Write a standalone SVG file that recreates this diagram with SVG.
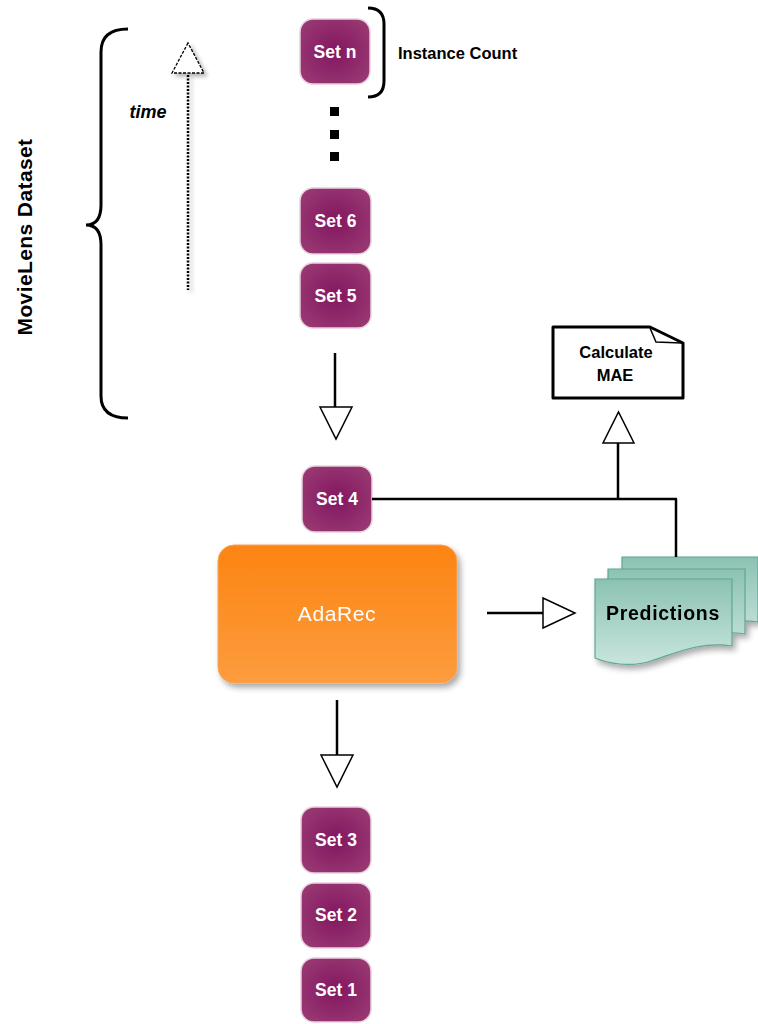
<svg xmlns="http://www.w3.org/2000/svg" width="758" height="1024" viewBox="0 0 758 1024">
<defs>
<radialGradient id="setG" cx="50%" cy="50%" r="60%">
<stop offset="0" stop-color="#831660"/>
<stop offset="1" stop-color="#983872"/>
</radialGradient>
<linearGradient id="orG" x1="0" y1="0" x2="0" y2="1">
<stop offset="0" stop-color="#FC8412"/>
<stop offset="1" stop-color="#FD9C3E"/>
</linearGradient>
<linearGradient id="tealG" x1="0" y1="0" x2="0" y2="1">
<stop offset="0" stop-color="#8CC2B3"/>
<stop offset="1" stop-color="#C8E5DD"/>
</linearGradient>
<filter id="sh" x="-20%" y="-20%" width="150%" height="150%">
<feGaussianBlur in="SourceAlpha" stdDeviation="3"/>
<feOffset dx="3" dy="4" result="b"/>
<feComponentTransfer><feFuncA type="linear" slope="0.35"/></feComponentTransfer>
<feMerge><feMergeNode/><feMergeNode in="SourceGraphic"/></feMerge>
</filter>
<filter id="sh2" x="-50%" y="-20%" width="300%" height="150%">
<feGaussianBlur in="SourceAlpha" stdDeviation="2"/>
<feOffset dx="3" dy="3"/>
<feComponentTransfer><feFuncA type="linear" slope="0.3"/></feComponentTransfer>
<feMerge><feMergeNode/><feMergeNode in="SourceGraphic"/></feMerge>
</filter>
</defs>
<style>
.set rect{fill:url(#setG);stroke:#E8D0DE;stroke-width:1.5}
.set text{fill:#fff;font-family:"Liberation Sans",Arial,sans-serif;font-weight:bold;font-size:17.5px;text-anchor:middle}
.lbl{font-family:"Liberation Sans",Arial,sans-serif;font-weight:bold;fill:#000}
.ln{stroke:#000;stroke-width:2.5;fill:none}
.tri{fill:#fff;stroke:#000;stroke-width:1.5}
.brace{fill:none;stroke:#000;stroke-width:3}
.page{fill:url(#tealG);stroke:#5FA694;stroke-width:1.2}
</style>
<rect width="758" height="1024" fill="#fff"/>

<g id="dataset-brace">
<path class="brace" d="M128,29 Q101,29 101,52 L101,205 Q101,225 86,225 Q101,225 101,245 L101,396 Q101,418 128,418"/>
<text class="lbl" font-size="21" letter-spacing="0.4" text-anchor="middle" transform="translate(32,237) rotate(-90)">MovieLens Dataset</text>
</g>

<g id="time-arrow" filter="url(#sh2)">
<line x1="188" y1="75" x2="188" y2="290" stroke="#000" stroke-width="2.5" stroke-dasharray="2,1.5"/>
<polygon points="188,43 172,73 204,73" fill="#fff" stroke="#000" stroke-width="1.3" stroke-dasharray="3,1.5"/>
</g>
<text id="time-label" class="lbl" x="148" y="118" font-size="18" font-style="italic" text-anchor="middle">time</text>

<g id="set-n" class="set"><rect x="300" y="19" width="70" height="65" rx="13"/><text x="335" y="58">Set n</text></g>
<g id="instance-count">
<path class="brace" d="M368,8 Q384,8 384,24 L384,81 Q384,97 368,97"/>
<text class="lbl" x="398" y="59" font-size="16.5">Instance Count</text>
</g>
<g id="ellipsis">
<rect x="330" y="107" width="9" height="9"/>
<rect x="330" y="130" width="9" height="9"/>
<rect x="330" y="152" width="9" height="9"/>
</g>
<g id="set-6" class="set"><rect x="300" y="188" width="71" height="66" rx="13"/><text x="335.5" y="227">Set 6</text></g>
<g id="set-5" class="set"><rect x="300" y="263" width="71" height="65" rx="13"/><text x="335.5" y="302">Set 5</text></g>
<g id="set-4" class="set"><rect x="302" y="466" width="70" height="66" rx="13"/><text x="337" y="505">Set 4</text></g>
<g id="set-3" class="set"><rect x="301" y="807" width="70" height="66" rx="13"/><text x="336" y="846">Set 3</text></g>
<g id="set-2" class="set"><rect x="301" y="883" width="70" height="65" rx="13"/><text x="336" y="921">Set 2</text></g>
<g id="set-1" class="set"><rect x="301" y="958" width="70" height="64" rx="13"/><text x="336" y="996">Set 1</text></g>

<g id="adarec" filter="url(#sh)">
<rect x="218" y="545" width="239" height="138" rx="16" fill="url(#orG)" stroke="#F3A560" stroke-width="1"/>
<text x="337" y="621" fill="#fff" font-family="'Liberation Sans',Arial,sans-serif" font-size="21" letter-spacing="0.6" text-anchor="middle">AdaRec</text>
</g>

<g id="calculate-mae">
<path d="M553,327 L650,327 L683,343 L683,398 L553,398 Z" fill="#fff" stroke="#000" stroke-width="3" stroke-linejoin="round"/>
<path d="M650,328 L656,342 L682,343" fill="none" stroke="#000" stroke-width="1.5"/>
<text class="lbl" x="616" y="358" font-size="16.5" text-anchor="middle">Calculate</text>
<text class="lbl" x="615" y="381" font-size="16.5" text-anchor="middle">MAE</text>
</g>

<g id="predictions" filter="url(#sh)">
<path class="page" d="M622,557 L758,557 L758,622 C728,617 705,628 680,637 C660,644 635,640 622,636 Z"/>
<path class="page" d="M608,569 L745,569 L745,634 C714,629 690,640 665,649 C645,656 620,652 608,648 Z"/>
<path class="page" d="M595,579 L732,579 L732,646 C700,641 676,653 651,661 C630,668 607,663 595,658 Z"/>
<text class="lbl" x="663" y="620" font-size="19.5" letter-spacing="0.7" text-anchor="middle" fill="#111">Predictions</text>
</g>

<g id="connectors">
<line class="ln" x1="335" y1="353" x2="335" y2="407"/>
<polygon class="tri" points="320,407 352,407 336,439"/>
<line class="ln" x1="372" y1="499" x2="677" y2="499"/>
<line class="ln" x1="618" y1="443" x2="618" y2="499"/>
<polygon class="tri" points="603,443 634,443 618.5,412"/>
<line class="ln" x1="676" y1="499" x2="676" y2="557"/>
<line class="ln" x1="487" y1="613" x2="543" y2="613"/>
<polygon class="tri" points="543,598 543,628 575,613"/>
<line class="ln" x1="337" y1="700" x2="337" y2="755"/>
<polygon class="tri" points="321,755 353,755 337,787"/>
</g>
</svg>
